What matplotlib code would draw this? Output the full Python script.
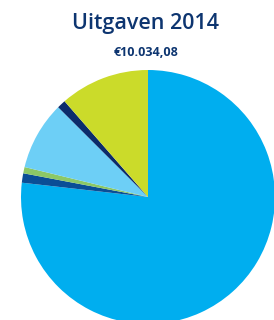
import matplotlib
matplotlib.use("Agg")
import matplotlib.pyplot as plt

categories = ["Post A", "Post B", "Post C", "Post D", "Post E", "Post F"]
values = [7706, 120, 80, 873, 110, 1145]
colors = ["#00AEEF", "#0A4E96", "#8CC866", "#6DCFF6", "#0B2C6B", "#CBDB2A"]
title = "Uitgaven 2014"
subtitle = "€10.034,08"

fig = plt.figure(figsize=(2.74, 3.20), dpi=100)
fig.patch.set_facecolor("white")

cx, cy, r = 148, 197, 127
W, H = 274, 320
ax = fig.add_axes([(cx - r) / W, (H - cy - r) / H, 2 * r / W, 2 * r / H])
ax.pie(values, colors=colors, startangle=90, counterclock=False,
       wedgeprops=dict(linewidth=0))
ax.set_xlim(-1, 1)
ax.set_ylim(-1, 1)
ax.set_aspect("auto")
ax.axis("off")

fig.text(146 / W, 1 - 24 / H, title, ha="center", va="center",
         fontsize=15.5, color="#0D3570", family="Open Sans", weight="semibold")
fig.text(146 / W, 1 - 52 / H, subtitle, ha="center", va="center",
         fontsize=9, color="#0D3570", family="Open Sans", weight="bold")

fig.savefig("out.png", dpi=100)
